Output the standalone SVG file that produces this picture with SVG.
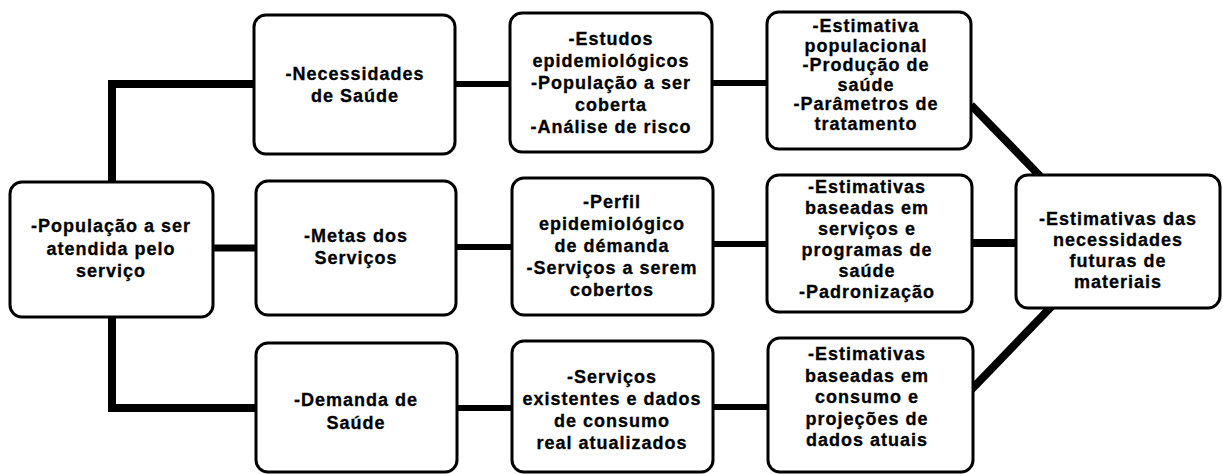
<svg xmlns="http://www.w3.org/2000/svg" width="1223" height="474" viewBox="0 0 1223 474">
<style>
.box{fill:#fff;stroke:#000;stroke-width:3}
.c{fill:none;stroke:#000;stroke-linecap:butt;stroke-linejoin:miter}
text{font-family:"Liberation Sans",Arial,sans-serif;font-weight:bold;font-size:18px;letter-spacing:1px;text-anchor:middle;fill:#000;stroke:#000;stroke-width:0.3}
</style>
<rect width="1223" height="474" fill="#fff"/>
<g id="connectors">
<path class="c" d="M256 84 H112 V408 H256" stroke-width="8"/>
<path class="c" d="M213 248 H256" stroke-width="7"/>
<path class="c" d="M455 84 H510" stroke-width="6"/>
<path class="c" d="M712 83 H768" stroke-width="6"/>
<path class="c" d="M456 247 H512" stroke-width="6"/>
<path class="c" d="M713 244 H768" stroke-width="6"/>
<path class="c" d="M457 408 H512" stroke-width="6"/>
<path class="c" d="M713 407 H768" stroke-width="6"/>
<path class="c" d="M971 105 L1040 176" stroke-width="8"/>
<path class="c" d="M972 243 H1016" stroke-width="8"/>
<path class="c" d="M971 390 L1052 306" stroke-width="8"/>
</g>
<g id="n_pop">
<rect class="box" x="10" y="182" width="203" height="135" rx="12"/>
<text x="111" y="232">-População a ser</text>
<text x="111" y="254.5">atendida pelo</text>
<text x="111" y="277">serviço</text>
</g>
<g id="n_necessidades">
<rect class="box" x="254" y="15" width="201" height="139" rx="12"/>
<text x="355" y="80">-Necessidades</text>
<text x="355" y="102">de Saúde</text>
</g>
<g id="n_metas">
<rect class="box" x="256" y="181" width="200" height="134" rx="12"/>
<text x="356" y="242">-Metas dos</text>
<text x="356" y="264">Serviços</text>
</g>
<g id="n_demanda">
<rect class="box" x="256" y="343" width="201" height="129" rx="12"/>
<text x="356" y="406">-Demanda de</text>
<text x="356" y="429">Saúde</text>
</g>
<g id="n_estudos">
<rect class="box" x="510" y="13" width="202" height="139" rx="12"/>
<text x="611" y="45">-Estudos</text>
<text x="611" y="67">epidemiológicos</text>
<text x="611" y="89">-População a ser</text>
<text x="611" y="111">coberta</text>
<text x="611" y="133">-Análise de risco</text>
</g>
<g id="n_perfil">
<rect class="box" x="512" y="178" width="201" height="137" rx="12"/>
<text x="612" y="208">-Perfil</text>
<text x="612" y="230">epidemiológico</text>
<text x="612" y="252">de démanda</text>
<text x="612" y="274">-Serviços a serem</text>
<text x="612" y="296">cobertos</text>
</g>
<g id="n_servicos">
<rect class="box" x="512" y="341" width="201" height="131" rx="12"/>
<text x="612" y="383">-Serviços</text>
<text x="612" y="405">existentes e dados</text>
<text x="612" y="427">de consumo</text>
<text x="612" y="449">real atualizados</text>
</g>
<g id="n_est_pop">
<rect class="box" x="767" y="12" width="204" height="137" rx="12"/>
<text x="866" y="32">-Estimativa</text>
<text x="866" y="51.6">populacional</text>
<text x="866" y="71.2">-Produção de</text>
<text x="866" y="90.8">saúde</text>
<text x="866" y="110.4">-Parâmetros de</text>
<text x="866" y="130">tratamento</text>
</g>
<g id="n_est_serv">
<rect class="box" x="767" y="175" width="205" height="137" rx="12"/>
<text x="867" y="193">-Estimativas</text>
<text x="867" y="214">baseadas em</text>
<text x="867" y="235">serviços e</text>
<text x="867" y="256">programas de</text>
<text x="867" y="277">saúde</text>
<text x="867" y="298">-Padronização</text>
</g>
<g id="n_est_cons">
<rect class="box" x="768" y="338" width="205" height="134" rx="12"/>
<text x="867" y="360">-Estimativas</text>
<text x="867" y="381.5">baseadas em</text>
<text x="867" y="403">consumo e</text>
<text x="867" y="424.5">projeções de</text>
<text x="867" y="446">dados atuais</text>
</g>
<g id="n_final">
<rect class="box" x="1016" y="175" width="204" height="133" rx="12"/>
<text x="1118" y="225">-Estimativas das</text>
<text x="1118" y="246">necessidades</text>
<text x="1118" y="267">futuras de</text>
<text x="1118" y="288">materiais</text>
</g>
</svg>
